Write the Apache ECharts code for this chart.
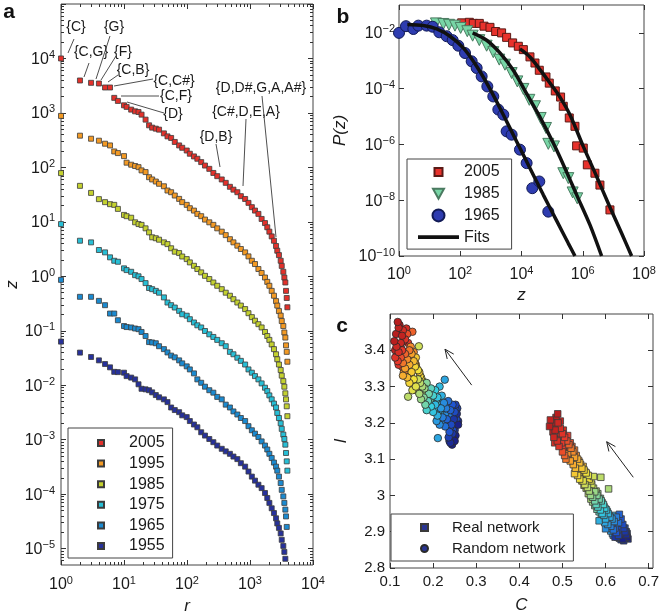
<!DOCTYPE html>
<html>
<head>
<meta charset="utf-8">
<script src="https://cdn.jsdelivr.net/npm/echarts@6/dist/echarts.min.js"></script>
<style>
html, body { margin: 0; padding: 0; background: #fff; }
#chart { width: 666px; height: 613px; }
</style>
</head>
<body>
<div id="chart"></div>
<script>
// ---- panel a: rank-ordered z for each year (shared ranks) ----
const rankR = [1, 2, 3, 4, 5, 6, 7, 8, 10, 11, 13, 15, 17, 19, 22, 25, 28, 32, 36, 43,
  49, 56, 64, 75, 84, 99, 111, 129, 146, 168, 193, 226, 262, 302, 356, 412, 480, 546, 630, 716,
  837, 946, 1070, 1200, 1360, 1530, 1730, 1880, 2030, 2210, 2400, 2590, 2710, 2880, 3070, 3190, 3380, 3510, 3640, 3730,
  3830, 3920];
const z2005 = [10000, 3940, 3570, 3470, 2930, 2930, 1890, 1660, 1380, 1290, 1150, 1070, 1040, 930, 753, 592, 537, 514, 493, 421,
  371, 347, 293, 253, 229, 204, 178, 159, 144, 125, 108, 94, 79, 69, 60, 52, 44, 39, 35, 29.6,
  26.3, 22.3, 18.6, 16.1, 14.0, 11.3, 9.5, 7.95, 6.6, 5.4, 4.5, 3.6, 2.95, 2.45, 1.93, 1.55, 1.21, 0.95, 0.77, 0.54,
  0.40, 0.27];
const z1995 = [881, 382, 336, 309, 272, 253, 196, 183, 161, 122, 112, 106, 101, 88, 82, 66, 60, 55, 50, 45,
  37.6, 35, 30.4, 26.4, 23.0, 20.5, 17.8, 16.1, 14.0, 12.7, 11.0, 9.8, 8.8, 7.6, 6.6, 5.7, 4.8, 4.2, 3.65, 3.17,
  2.75, 2.32, 1.93, 1.68, 1.36, 1.15, 0.95, 0.79, 0.67, 0.54, 0.44, 0.35, 0.29, 0.23, 0.19, 0.151, 0.122, 0.093, 0.075, 0.054,
  0.041, 0.027];
const z1985 = [78.5, 45.8, 34.0, 26.1, 23.0, 21.1, 20.5, 17.3, 13.4, 12.7, 11.9, 9.8, 9.1, 8.8, 7.6, 6.4, 5.2, 5.0, 4.7, 4.2,
  3.9, 3.27, 2.83, 2.67, 2.31, 2.07, 1.80, 1.56, 1.36, 1.18, 1.02, 0.89, 0.77, 0.67, 0.58, 0.50, 0.44, 0.38, 0.33, 0.29,
  0.25, 0.21, 0.178, 0.153, 0.132, 0.115, 0.095, 0.080, 0.068, 0.056, 0.046, 0.037, 0.030, 0.024, 0.019, 0.015, 0.0119, 0.0094, 0.0071, 0.0055,
  0.0041, 0.0027];
const z1975 = [9.1, 4.5, 4.2, 3.04, 2.75, 2.23, 1.93, 1.85, 1.40, 1.30, 1.21, 1.05, 1.00, 0.89, 0.75, 0.61, 0.58, 0.54, 0.50, 0.41,
  0.33, 0.295, 0.267, 0.232, 0.201, 0.189, 0.163, 0.142, 0.126, 0.115, 0.099, 0.086, 0.077, 0.068, 0.059, 0.052, 0.041, 0.037, 0.032, 0.028,
  0.024, 0.0195, 0.017, 0.0147, 0.0128, 0.0108, 0.0090, 0.0078, 0.0065, 0.0055, 0.0046, 0.0039, 0.0031, 0.0025, 0.0020, 0.00158, 0.00124, 0.00103, 0.00081, 0.00057,
  0.00040, 0.00027];
const z1965 = [0.86, 0.42, 0.42, 0.354, 0.295, 0.207, 0.207, 0.156, 0.122, 0.117, 0.115, 0.110, 0.107, 0.095, 0.080, 0.062, 0.061, 0.059, 0.052, 0.046,
  0.040, 0.035, 0.0325, 0.0286, 0.0252, 0.0222, 0.0195, 0.0165, 0.0128, 0.0111, 0.0094, 0.0081, 0.0073, 0.0061, 0.0055, 0.0044, 0.0039, 0.0033, 0.0029, 0.0025,
  0.0022, 0.00177, 0.00149, 0.00129, 0.00112, 0.00093, 0.00078, 0.00066, 0.00055, 0.00046, 0.00038, 0.00032, 0.00027, 0.00021, 0.00016, 0.00012, 0.000091, 0.000069, 0.000052, 0.000039,
  0.000025, null];
const z1955 = [0.0632, 0.0397, 0.033, 0.0286, 0.0245, 0.0213, 0.0176, 0.0174, 0.0170, 0.0147, 0.0138, 0.0128, 0.0104, 0.0086, 0.0084, 0.0081, 0.0074, 0.0066, 0.0060, 0.0055,
  0.0049, 0.0039, 0.0035, 0.0032, 0.0028, 0.0026, 0.0022, 0.0019, 0.00169, 0.00137, 0.00119, 0.00103, 0.00090, 0.00078, 0.00068, 0.00061, 0.00055, 0.00049, 0.00044, 0.00037,
  0.00032, 0.00026, 0.00021, 0.000177, 0.000149, 0.000129, 0.000105, 0.000085, 0.000069, 0.000055, 0.000045, 0.000036, 0.000029, 0.000024, 0.000019, 0.0000145, 0.0000112, 0.0000087, 0.0000065, null,
  null, null];
const yearsA = ['2005', '1995', '1985', '1975', '1965', '1955'];
const zA = [z2005, z1995, z1985, z1975, z1965, z1955];

// ---- panel b: P(z) ----
const zB2005 = [111, 198, 267, 419, 596, 935, 1430, 2240, 3270, 5130, 7870, 11500, 18900, 27500, 38100, 63000, 80700, 126800,
  189000, 231000, 363000, 556000, 631000, 1040000, 1410000, 2500000, 3640000, 7730000];
const pB2005 = [0.0229, 0.024, 0.0219, 0.0219, 0.0174, 0.0158, 0.0112, 0.0100, 0.00692, 0.00437, 0.00331, 0.00251, 0.00138, 0.000832,
  0.000457, 0.000263, 0.000158, 8.3e-5, 5.0e-5, 2.34e-5, 8.9e-6, 4.47e-6, 8.9e-7, 7.4e-7, 1.86e-7, 9.3e-8, 3.5e-8, 4.5e-9];
const zB1985 = [16.1, 28, 42.9, 67.3, 103, 170, 254, 419, 728, 1200, 1880, 2880, 4760, 7300, 11500, 18000, 27500, 42200,
  63000, 75000, 114800, 231700, 337300, 467700, 660700];
const pB1985 = [0.0219, 0.0209, 0.0195, 0.0182, 0.0151, 0.0115, 0.00794, 0.0055, 0.00347, 0.00204, 0.0011, 0.000724, 0.000363,
  0.000182, 9.8e-5, 3.98e-5, 2.34e-5, 8.9e-6, 3.9e-6, 1.05e-6, 8.5e-7, 9.3e-8, 6.2e-8, 1.9e-8, 1.17e-8];
const zB1965 = [1, 1.69, 2.94, 4.28, 8.0, 12.6, 20.7, 36, 56.5, 86.5, 143, 236, 343, 500, 766, 1200, 1750, 2550, 3270, 4760,
  8910, 14700, 22500, 38100, 75000];
const pB1965 = [0.01, 0.0174, 0.0138, 0.0182, 0.0182, 0.0166, 0.0105, 0.00759, 0.0055, 0.00347, 0.0019, 0.000955, 0.00055,
  0.000275, 0.00012, 5.25e-5, 1.78e-5, 1.17e-5, 2.95e-6, 2.24e-6, 6.5e-7, 2.14e-7, 2.7e-8, 4.7e-8, 3.9e-9];
const fitZ1965 = [1.87, 6.22, 17, 46.2, 126, 343, 935, 2550, 6930, 18900, 51500, 140000, 337000, 556000];
const fitP1965 = [0.02, 0.0183, 0.0139, 0.00759, 0.00289, 0.000634, 9.8e-5, 1.16e-5, 1.28e-6, 1.41e-7, 1.56e-8, 1.86e-9, 2.85e-10, 1e-10];
const fitZ1985 = [254, 728, 1980, 5400, 14700, 40100, 109000, 262000, 631000, 1720000, 4130000];
const fitP1985 = [0.01, 0.00546, 0.00191, 0.000456, 6.6e-5, 9.6e-6, 1.12e-6, 1.41e-7, 1.56e-8, 1.3e-9, 1e-10];
const fitZ2005 = [8910, 18900, 40100, 84900, 180000, 382000, 1040000, 2840000, 7730000, 18600000, 39400000];
const fitP2005 = [0.00266, 0.00137, 0.000482, 0.00016, 5.0e-5, 1.16e-5, 8.5e-7, 7.1e-8, 5.6e-9, 6.5e-10, 1e-10];

// ---- panel c: clustering C vs path length l, coloured by year ----
const cYears = [2005, 2005, 2004, 2004, 2003, 2003, 2002, 2002, 2001, 2001, 2000, 2000, 1999, 1999, 1998, 1998,
  1997, 1997, 1996, 1996, 1995, 1995, 1994, 1994, 1993, 1993, 1992, 1992, 1991, 1991, 1990, 1990,
  1989, 1989, 1988, 1988, 1987, 1987, 1986, 1986, 1985, 1985, 1984, 1984, 1983, 1983, 1982, 1982,
  1981, 1981, 1980, 1980, 1979, 1979, 1978, 1978, 1977, 1977, 1976, 1976, 1975, 1975, 1974, 1974,
  1973, 1973, 1972, 1972, 1971, 1971, 1970, 1970, 1969, 1969, 1968, 1968, 1967, 1967, 1966, 1966,
  1965, 1965];
const realC = [0.470, 0.489, 0.472, 0.483, 0.490, 0.480, 0.495, 0.488, 0.500, 0.492, 0.505, 0.498, 0.510, 0.500, 0.515, 0.505,
  0.520, 0.508, 0.512, 0.524, 0.518, 0.528, 0.525, 0.535, 0.530, 0.540, 0.528, 0.545, 0.535, 0.550, 0.540, 0.555,
  0.548, 0.560, 0.552, 0.572, 0.558, 0.589, 0.562, 0.607, 0.565, 0.575, 0.570, 0.580, 0.575, 0.585, 0.578, 0.590,
  0.582, 0.595, 0.588, 0.598, 0.592, 0.602, 0.596, 0.606, 0.600, 0.585, 0.598, 0.610, 0.605, 0.615, 0.600, 0.620,
  0.612, 0.625, 0.618, 0.630, 0.622, 0.632, 0.625, 0.636, 0.628, 0.640, 0.630, 0.642, 0.622, 0.645, 0.635, 0.648,
  0.640, 0.650];
const realL = [3.190, 3.225, 3.208, 3.180, 3.200, 3.160, 3.185, 3.150, 3.170, 3.135, 3.160, 3.145, 3.150, 3.120, 3.140, 3.110,
  3.130, 3.100, 3.115, 3.120, 3.095, 3.105, 3.085, 3.100, 3.075, 3.090, 3.060, 3.075, 3.055, 3.070, 3.045, 3.062,
  3.040, 3.055, 3.030, 3.052, 3.022, 3.050, 3.012, 3.018, 3.000, 3.010, 2.995, 3.000, 2.985, 2.990, 2.975, 2.985,
  2.968, 2.975, 2.960, 2.965, 2.950, 2.960, 2.945, 2.950, 2.935, 2.930, 2.925, 2.940, 2.920, 2.935, 2.908, 2.928,
  2.915, 2.940, 2.905, 2.925, 2.910, 2.948, 2.898, 2.935, 2.905, 2.920, 2.890, 2.910, 2.885, 2.900, 2.895, 2.892,
  2.880, 2.885];
const realC2 = [0.476, 0.485, 0.478, 0.495, 0.486, 0.496, 0.482, 0.502, 0.494, 0.506, 0.502, 0.512, 0.506, 0.518, 0.510, 0.522,
  0.515, 0.528, 0.520, 0.532, 0.525, 0.538, 0.530, 0.542, 0.535, 0.548, 0.538, 0.552, 0.542, 0.556, 0.545, 0.562,
  0.550, 0.566, 0.555, 0.568, 0.560, 0.572, 0.566, 0.578, 0.570, 0.582, 0.575, 0.588, 0.580, 0.592, 0.585, 0.596,
  0.590, 0.600, 0.594, 0.604, 0.597, 0.608, 0.602, 0.612, 0.606, 0.616, 0.608, 0.620, 0.612, 0.624, 0.616, 0.628,
  0.618, 0.634, 0.624, 0.638, 0.628, 0.642, 0.632, 0.645, 0.636, 0.648, 0.638, 0.650, 0.642, 0.646, 0.626, 0.652,
  0.634, 0.644];
const realL2 = [3.200, 3.215, 3.175, 3.205, 3.190, 3.170, 3.145, 3.180, 3.155, 3.150, 3.130, 3.165, 3.125, 3.145, 3.115, 3.135,
  3.105, 3.125, 3.100, 3.110, 3.090, 3.095, 3.080, 3.085, 3.070, 3.080, 3.060, 3.065, 3.050, 3.058, 3.040, 3.045,
  3.028, 3.040, 3.020, 3.030, 3.005, 3.020, 2.990, 3.012, 2.982, 3.005, 2.972, 2.992, 2.962, 2.980, 2.955, 2.970,
  2.945, 2.962, 2.938, 2.955, 2.930, 2.945, 2.925, 2.938, 2.918, 2.945, 2.910, 2.938, 2.902, 2.930, 2.895, 2.918,
  2.890, 2.912, 2.892, 2.905, 2.885, 2.898, 2.882, 2.910, 2.878, 2.900, 2.888, 2.895, 2.875, 2.882, 2.905, 2.880,
  2.900, 2.890];
const randC = [0.118, 0.110, 0.120, 0.128, 0.115, 0.125, 0.130, 0.120, 0.112, 0.135, 0.128, 0.118, 0.140, 0.125, 0.135, 0.152,
  0.130, 0.145, 0.140, 0.148, 0.135, 0.150, 0.145, 0.130, 0.140, 0.155, 0.150, 0.160, 0.145, 0.158, 0.155, 0.165,
  0.160, 0.152, 0.167, 0.165, 0.142, 0.170, 0.175, 0.168, 0.180, 0.172, 0.185, 0.178, 0.190, 0.182, 0.195, 0.188,
  0.200, 0.185, 0.205, 0.195, 0.210, 0.200, 0.215, 0.205, 0.220, 0.210, 0.211, 0.227, 0.218, 0.208, 0.225, 0.215,
  0.230, 0.222, 0.235, 0.228, 0.240, 0.232, 0.245, 0.238, 0.250, 0.242, 0.252, 0.236, 0.248, 0.245, 0.255, 0.240,
  0.258, 0.250];
const randL = [3.478, 3.425, 3.462, 3.440, 3.410, 3.420, 3.455, 3.395, 3.380, 3.430, 3.400, 3.370, 3.445, 3.380, 3.390, 3.451,
  3.365, 3.400, 3.375, 3.410, 3.350, 3.390, 3.360, 3.330, 3.325, 3.370, 3.340, 3.380, 3.310, 3.355, 3.320, 3.345,
  3.300, 3.290, 3.411, 3.320, 3.272, 3.310, 3.300, 3.280, 3.295, 3.265, 3.310, 3.270, 3.280, 3.250, 3.295, 3.260,
  3.275, 3.235, 3.290, 3.245, 3.270, 3.230, 3.300, 3.250, 3.275, 3.220, 3.158, 3.319, 3.240, 3.205, 3.255, 3.195,
  3.240, 3.215, 3.260, 3.190, 3.235, 3.210, 3.250, 3.175, 3.230, 3.195, 3.250, 3.160, 3.210, 3.170, 3.225, 3.145,
  3.195, 3.150];
const randC2 = [0.114, 0.122, 0.112, 0.132, 0.124, 0.118, 0.126, 0.138, 0.120, 0.130, 0.132, 0.142, 0.128, 0.138, 0.134, 0.146,
  0.138, 0.152, 0.132, 0.155, 0.142, 0.158, 0.148, 0.160, 0.146, 0.162, 0.152, 0.168, 0.156, 0.170, 0.160, 0.172,
  0.164, 0.176, 0.170, 0.180, 0.174, 0.184, 0.178, 0.188, 0.183, 0.192, 0.188, 0.196, 0.192, 0.200, 0.196, 0.204,
  0.200, 0.208, 0.204, 0.212, 0.208, 0.216, 0.212, 0.220, 0.216, 0.224, 0.220, 0.228, 0.224, 0.232, 0.228, 0.236,
  0.232, 0.240, 0.236, 0.244, 0.240, 0.248, 0.244, 0.252, 0.246, 0.254, 0.242, 0.256, 0.250, 0.238, 0.246, 0.258,
  0.252, 0.244];
const randL2 = [3.445, 3.470, 3.400, 3.425, 3.450, 3.385, 3.405, 3.460, 3.360, 3.385, 3.375, 3.420, 3.355, 3.395, 3.365, 3.385,
  3.345, 3.375, 3.340, 3.395, 3.340, 3.365, 3.330, 3.360, 3.315, 3.350, 3.310, 3.340, 3.305, 3.330, 3.290, 3.325,
  3.300, 3.315, 3.290, 3.310, 3.280, 3.300, 3.285, 3.295, 3.275, 3.290, 3.270, 3.285, 3.260, 3.280, 3.255, 3.270,
  3.250, 3.265, 3.240, 3.260, 3.235, 3.255, 3.230, 3.250, 3.225, 3.245, 3.215, 3.240, 3.205, 3.250, 3.225, 3.240,
  3.200, 3.225, 3.215, 3.240, 3.190, 3.220, 3.205, 3.235, 3.180, 3.210, 3.160, 3.240, 3.180, 3.150, 3.155, 3.205,
  3.165, 3.140];

const FONT = "'Liberation Sans', Arial, Helvetica, sans-serif";
const INK = '#1a1a1a';
const colorsA = ['#e3312b', '#f39a24', '#c4d12f', '#27bfd6', '#1b8ad0', '#27319a'];
const jet = ['#1a2188', '#1f55d0', '#2a9ae0', '#36cfe0', '#9ad888', '#f2e23a', '#f7a02c', '#e8382a', '#b81e1e'];

function pairs(xs, ys) {
  const out = [];
  for (let i = 0; i < xs.length; i++) {
    if (ys[i] != null) out.push([xs[i], ys[i]]);
  }
  return out;
}
function triples(xs, ys, vs) {
  return xs.map((x, i) => [x, ys[i], vs[i]]);
}
function pow10Label(v) {
  const e = Math.round(Math.log10(v));
  return '{b|10}{e|' + (e < 0 ? '\u2212' + (-e) : e) + '}';
}
const richExp = {
  b: { fontSize: 16, fontFamily: FONT, color: INK, verticalAlign: 'bottom' },
  e: { fontSize: 11, fontFamily: FONT, color: INK, verticalAlign: 'bottom', padding: [0, 0, 7, 0] }
};

// tick values
const xMajorA = [1, 10, 100, 1000, 10000];
const yMajorA = [1e-5, 1e-4, 1e-3, 1e-2, 1e-1, 1, 10, 100, 1000, 1e4, 1e5];
const xMinorA = [];
for (let d = 0; d < 4; d++) for (let k = 2; k < 10; k++) xMinorA.push(k * Math.pow(10, d));
const yMinorA = [];
for (let d = -6; d < 5; d++) for (let k = 2; k < 10; k++) {
  const v = k * Math.pow(10, d);
  if (v > 5e-6 && v < 1e5) yMinorA.push(v);
}
const xMajorB = [1, 1e2, 1e4, 1e6, 1e8];
const yMajorB = [1e-10, 1e-8, 1e-6, 1e-4, 1e-2];
const xMajorC = [0.1, 0.2, 0.3, 0.4, 0.5, 0.6, 0.7];
const yMajorC = [2.8, 2.9, 3, 3.1, 3.2, 3.3, 3.4];

const tickColor = '#333';
function tickAxis(base, vals, len, extra) {
  return Object.assign({
    axisLine: { show: false },
    splitLine: { show: false },
    axisTick: { inside: true, length: len, customValues: vals, lineStyle: { color: tickColor, width: 1 } },
    axisLabel: { show: false }
  }, base, extra || {});
}
const nameStyle = { fontSize: 17, fontFamily: FONT, fontStyle: 'italic', color: INK };

const xAxes = [
  // panel a
  tickAxis({ gridIndex: 0, type: 'log', min: 1, max: 1e4, position: 'bottom' }, xMajorA, 5, {
    axisLabel: { show: true, customValues: xMajorA, formatter: pow10Label, rich: richExp, margin: 10 },
    name: 'r', nameLocation: 'middle', nameGap: 29, nameTextStyle: nameStyle
  }),
  tickAxis({ gridIndex: 0, type: 'log', min: 1, max: 1e4, position: 'top' }, xMajorA, 5),
  tickAxis({ gridIndex: 0, type: 'log', min: 1, max: 1e4, position: 'bottom' }, xMinorA, 3),
  tickAxis({ gridIndex: 0, type: 'log', min: 1, max: 1e4, position: 'top' }, xMinorA, 3),
  // panel b
  tickAxis({ gridIndex: 1, type: 'log', min: 1, max: 1e8, position: 'bottom' }, xMajorB, 5, {
    axisLabel: { show: true, customValues: xMajorB, formatter: pow10Label, rich: richExp, margin: 9 },
    name: 'z', nameLocation: 'middle', nameGap: 31, nameTextStyle: nameStyle
  }),
  tickAxis({ gridIndex: 1, type: 'log', min: 1, max: 1e8, position: 'top' }, xMajorB, 5),
  // panel c
  tickAxis({ gridIndex: 2, type: 'value', min: 0.1, max: 0.71, interval: 0.1, position: 'bottom' }, xMajorC, 5, {
    axisLabel: { show: true, customValues: xMajorC, fontSize: 15, fontFamily: FONT, color: INK, margin: 6 },
    name: 'C', nameLocation: 'middle', nameGap: 29, nameTextStyle: nameStyle
  }),
  tickAxis({ gridIndex: 2, type: 'value', min: 0.1, max: 0.71, interval: 0.1, position: 'top' }, xMajorC, 5)
];
const yAxes = [
  tickAxis({ gridIndex: 0, type: 'log', min: 5e-6, max: 1e5, position: 'left' }, yMajorA, 5, {
    axisLabel: { show: true, customValues: yMajorA.slice(0, 10), formatter: pow10Label, rich: richExp, margin: 6 },
    name: 'z', nameLocation: 'middle', nameGap: 40, nameTextStyle: nameStyle
  }),
  tickAxis({ gridIndex: 0, type: 'log', min: 5e-6, max: 1e5, position: 'right' }, yMajorA, 5),
  tickAxis({ gridIndex: 0, type: 'log', min: 5e-6, max: 1e5, position: 'left' }, yMinorA, 3),
  tickAxis({ gridIndex: 0, type: 'log', min: 5e-6, max: 1e5, position: 'right' }, yMinorA, 3),
  tickAxis({ gridIndex: 1, type: 'log', min: 1e-10, max: 1e-1, position: 'left' }, yMajorB, 5, {
    axisLabel: { show: true, customValues: yMajorB, formatter: pow10Label, rich: richExp, margin: 4 },
    name: 'P(z)', nameLocation: 'middle', nameGap: 50, nameTextStyle: nameStyle
  }),
  tickAxis({ gridIndex: 1, type: 'log', min: 1e-10, max: 1e-1, position: 'right' }, yMajorB, 5),
  tickAxis({ gridIndex: 2, type: 'value', min: 2.8, max: 3.5, interval: 0.1, position: 'left' }, yMajorC, 5, {
    axisLabel: { show: true, customValues: yMajorC, fontSize: 15, fontFamily: FONT, color: INK, margin: 5 },
    name: 'l', nameLocation: 'middle', nameGap: 40, nameTextStyle: nameStyle
  }),
  tickAxis({ gridIndex: 2, type: 'value', min: 2.8, max: 3.5, interval: 0.1, position: 'right' }, yMajorC, 5)
];

const series = [];
yearsA.forEach((y, i) => {
  series.push({
    name: y, type: 'scatter', xAxisIndex: 0, yAxisIndex: 0,
    symbol: 'rect', symbolSize: 5,
    itemStyle: { color: colorsA[i], borderColor: '#3c3c3c', borderWidth: 0.8, opacity: 1 },
    data: pairs(rankR, zA[i])
  });
});
series.push(
  { name: 'b2005', type: 'scatter', xAxisIndex: 4, yAxisIndex: 4, symbol: 'rect', symbolSize: 8,
    itemStyle: { color: '#e8322c', borderColor: '#5a1a16', borderWidth: 1, opacity: 1 }, data: pairs(zB2005, pB2005) },
  { name: 'b1985', type: 'scatter', xAxisIndex: 4, yAxisIndex: 4, symbol: 'triangle', symbolRotate: 180, symbolSize: 11,
    itemStyle: { color: '#78d6a6', borderColor: '#4a7a60', borderWidth: 1, opacity: 1 }, data: pairs(zB1985, pB1985) },
  { name: 'b1965', type: 'scatter', xAxisIndex: 4, yAxisIndex: 4, symbol: 'circle', symbolSize: 11,
    itemStyle: { color: '#2e3cb0', borderColor: '#111a55', borderWidth: 1, opacity: 1 }, data: pairs(zB1965, pB1965) }
);
[[fitZ2005, fitP2005], [fitZ1985, fitP1985], [fitZ1965, fitP1965]].forEach(f => {
  series.push({
    name: 'Fits', type: 'line', xAxisIndex: 4, yAxisIndex: 4, symbol: 'none', smooth: 0.3, z: 5,
    itemStyle: { color: '#111' },
    lineStyle: { color: '#111', width: 3.5 },
    data: pairs(f[0], f[1])
  });
});
const idxReal = series.length;
series.push(
  { name: 'Real network', type: 'scatter', xAxisIndex: 6, yAxisIndex: 6, symbol: 'rect', symbolSize: 6.5,
    itemStyle: { color: '#2a3591', borderColor: '#3a3a3a', borderWidth: 0.8, opacity: 1 },
    data: triples(realC.concat(realC2), realL.concat(realL2), cYears.concat(cYears)).reverse() },
  { name: 'Random network', type: 'scatter', xAxisIndex: 6, yAxisIndex: 6, symbol: 'circle', symbolSize: 7.5,
    itemStyle: { color: '#2a3591', borderColor: '#2a2a2a', borderWidth: 0.8, opacity: 1 },
    data: triples(randC.concat(randC2), randL.concat(randL2), cYears.concat(cYears)).reverse() }
);

// legend icons: invisible moveTo corners fix the box, the visible shape sits in the middle
const iconSq6 = 'path://M0,0M46,6M20,0L26,0L26,6L20,6Z';
const iconSqB = 'path://M0,0M41,12M16.5,2L24.5,2L24.5,10L16.5,10Z';
const iconTriB = 'path://M0,0M41,12M15,1L26,1L20.5,11Z';
const iconCirB = 'path://M0,0M41,12M14.5,6A6,6,0,1,0,26.5,6A6,6,0,1,0,14.5,6Z';
const iconLineB = 'path://M0,0M41,12M0,4.2L41,4.2L41,7.8L0,7.8Z';
const iconSqC = 'path://M0,0M45,7M19,0L26,0L26,7L19,7Z';
const iconCirC = 'path://M0,0M45,7M18.5,3.5A4,4,0,1,0,26.5,3.5A4,4,0,1,0,18.5,3.5Z';

const legendText = { fontSize: 16, fontFamily: FONT, color: INK };
const chart = echarts.init(document.getElementById('chart'), null, { renderer: 'canvas' });
chart.setOption({
  animation: false,
  backgroundColor: '#fff',
  textStyle: { fontFamily: FONT },
  grid: [
    { left: 61, top: 4, width: 252, height: 561, show: true, borderColor: '#444', borderWidth: 1, outerBoundsMode: 'none' },
    { left: 399, top: 5, width: 245, height: 251, show: true, borderColor: '#444', borderWidth: 1, outerBoundsMode: 'none' },
    { left: 390, top: 314, width: 263, height: 254, show: true, borderColor: '#444', borderWidth: 1, outerBoundsMode: 'none' }
  ],
  xAxis: xAxes,
  yAxis: yAxes,
  visualMap: {
    show: false, type: 'continuous', seriesIndex: [idxReal, idxReal + 1], dimension: 2,
    min: 1965, max: 2005, inRange: { color: jet }
  },
  legend: [
    { data: yearsA.map(n => ({ name: n, icon: iconSq6 })), orient: 'vertical', left: 68, top: 428,
      itemWidth: 46, itemHeight: 6, itemGap: 4.6,
      padding: [7, 8, 4, 9], borderColor: '#444', borderWidth: 1, backgroundColor: '#fff',
      textStyle: legendText, selectedMode: false },
    { data: [{ name: 'b2005', icon: iconSqB }, { name: 'b1985', icon: iconTriB }, { name: 'b1965', icon: iconCirB },
      { name: 'Fits', icon: iconLineB, itemStyle: { color: '#111', borderWidth: 0 } }],
      orient: 'vertical', left: 407, top: 159, itemWidth: 41, itemHeight: 12,
      itemGap: 5.7, padding: [5, 12, 4, 10], borderColor: '#444', borderWidth: 1, backgroundColor: '#fff',
      textStyle: legendText, selectedMode: false, formatter: n => n.replace(/^b/, '') },
    { data: [{ name: 'Real network', icon: iconSqC }, { name: 'Random network', icon: iconCirC }],
      orient: 'vertical', left: 391, top: 514, itemWidth: 45, itemHeight: 7,
      itemGap: 6, padding: [6, 8, 5, 10], borderColor: '#444', borderWidth: 1, backgroundColor: '#fff',
      textStyle: { fontSize: 15, fontFamily: FONT, color: INK }, selectedMode: false }
  ],
  series: series
});

// annotations (panel a) and arrows (panel c)
const notes = [
  { t: '{C}', x: 76, y: 27, l: [74, 39, 68, 53] },
  { t: '{G}', x: 114, y: 27, l: [110, 36, 96, 79] },
  { t: '{C,G}', x: 91, y: 52, l: [89, 63, 84, 77] },
  { t: '{F}', x: 123, y: 52, l: [116, 56, 101, 80] },
  { t: '{C,B}', x: 133, y: 70, l: [118, 75, 108, 82] },
  { t: '{C,C#}', x: 174, y: 81, l: [153, 79, 114, 86] },
  { t: '{C,F}', x: 176, y: 96, l: [159, 96, 121, 96] },
  { t: '{D}', x: 173, y: 114, l: [164, 113, 127, 102] },
  { t: '{D,B}', x: 216, y: 137, l: [216, 144, 220, 167] },
  { t: '{C#,D,E,A}', x: 246, y: 112, l: [246, 119, 243, 186] },
  { t: '{D,D#,G,A,A#}', x: 261, y: 88, l: [262, 96, 276, 237] }
];
const arrowsC = [[0.2895, 3.304, 0.2276, 3.403], [0.6643, 3.050, 0.6026, 3.148]];
const graphics = [];
notes.forEach(n => {
  graphics.push({ type: 'text', z: 100, style: { text: n.t, x: n.x, y: n.y, fill: INK, fontSize: 14, fontFamily: FONT,
    align: 'center', verticalAlign: 'middle' } });
  graphics.push({ type: 'line', z: 100, shape: { x1: n.l[0], y1: n.l[1], x2: n.l[2], y2: n.l[3] },
    style: { stroke: '#222', lineWidth: 0.8 } });
});
arrowsC.forEach(a => {
  const p0 = chart.convertToPixel({ xAxisIndex: 6, yAxisIndex: 6 }, [a[0], a[1]]);
  const p1 = chart.convertToPixel({ xAxisIndex: 6, yAxisIndex: 6 }, [a[2], a[3]]);
  const ang = Math.atan2(p1[1] - p0[1], p1[0] - p0[0]);
  const h = 10, spread = 0.42;
  const hA = [p1[0] - h * Math.cos(ang - spread), p1[1] - h * Math.sin(ang - spread)];
  const hB = [p1[0] - h * Math.cos(ang + spread), p1[1] - h * Math.sin(ang + spread)];
  graphics.push({ type: 'line', z: 100, shape: { x1: p0[0], y1: p0[1], x2: p1[0], y2: p1[1] }, style: { stroke: '#222', lineWidth: 1 } });
  graphics.push({ type: 'polyline', z: 100, shape: { points: [hA, p1, hB] }, style: { stroke: '#222', lineWidth: 1, fill: null } });
});
[['a', 9, 12], ['b', 343, 17], ['c', 342, 326]].forEach(p => {
  graphics.push({ type: 'text', z: 100, style: { text: p[0], x: p[1], y: p[2], fill: '#111', fontSize: 21, fontWeight: 'bold',
    fontFamily: FONT, align: 'center', verticalAlign: 'middle' } });
});
chart.setOption({ graphic: graphics });
</script>
</body>
</html>
